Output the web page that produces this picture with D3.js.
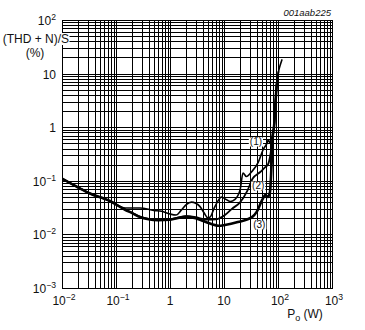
<!DOCTYPE html>
<html>
<head>
<meta charset="utf-8">
<script src="https://cdn.jsdelivr.net/npm/d3@7"></script>
<style>
  html, body { margin: 0; padding: 0; background: #fff; }
  svg { display: block; }
  text { font-family: "Liberation Sans", Arial, sans-serif; fill: #111; }
</style>
</head>
<body>
<svg id="chart" width="365" height="330"></svg>
<script>
// Output power (W) and (THD+N)/S (%) for the three measurement conditions
const power1 = [0.01, 0.02, 0.033, 0.077, 0.15, 0.28, 0.5, 0.7, 1.0, 1.3, 1.6, 2.0, 2.5, 3.0, 3.6, 4.3, 5.0, 5.5, 6.5, 7.5, 9, 10.5, 13, 16, 20, 22.5, 26, 33, 43, 53, 63, 66, 70, 75, 80, 85, 90, 95, 102, 110, 118];
const thd1   = [0.11, 0.075, 0.058, 0.042, 0.031, 0.031, 0.028, 0.027, 0.024, 0.023, 0.028, 0.036, 0.040, 0.038, 0.033, 0.025, 0.0205, 0.021, 0.030, 0.040, 0.050, 0.046, 0.041, 0.045, 0.070, 0.14, 0.12, 0.15, 0.22, 0.38, 0.51, 0.58, 0.52, 0.6, 0.75, 1.1, 3.0, 6.5, 10.8, 14.5, 18];

const power2 = [0.01, 0.02, 0.033, 0.077, 0.15, 0.2, 0.28, 0.4, 0.6, 1.0, 1.5, 2.0, 3.0, 4.0, 5.0, 7.0, 10.4, 14, 20, 27, 34, 47, 58, 65, 72, 78, 85, 90, 95, 102];
const thd2   = [0.11, 0.075, 0.058, 0.042, 0.029, 0.025, 0.0215, 0.0195, 0.0186, 0.019, 0.021, 0.022, 0.021, 0.0195, 0.0188, 0.019, 0.023, 0.030, 0.040, 0.065, 0.11, 0.146, 0.18, 0.2, 0.3, 0.55, 1.1, 3.0, 6.5, 10.8];

const power3 = [0.01, 0.02, 0.033, 0.077, 0.15, 0.2, 0.28, 0.4, 0.6, 1.0, 1.5, 2.0, 3.0, 4.0, 5.0, 8.0, 10.4, 18, 33, 40, 51, 58, 65, 71, 76, 80, 85, 90, 95];
const thd3   = [0.11, 0.075, 0.058, 0.042, 0.0285, 0.025, 0.021, 0.0192, 0.0185, 0.0188, 0.0205, 0.0215, 0.02, 0.018, 0.0165, 0.0145, 0.015, 0.017, 0.021, 0.026, 0.044, 0.054, 0.05, 0.062, 0.2, 0.7, 1.1, 3.0, 6.5];

// Tick labels: [mantissa text, exponent text]
const xTickValues = [0.01, 0.1, 1, 10, 100, 1000];
const xTickLabels = [["10", "\u22122"], ["10", "\u22121"], ["1", ""], ["10", ""], ["10", "2"], ["10", "3"]];
const yTickValues = [0.001, 0.01, 0.1, 1, 10, 100];
const yTickLabels = [["10", "\u22123"], ["10", "\u22122"], ["10", "\u22121"], ["1", ""], ["10", ""], ["10", "2"]];

// Curve identifiers and where they sit (W, %)
const curveNames = ["(1)", "(2)", "(3)"];
const labelAnchors = [[39, 0.53], [43, 0.08], [45, 0.015]];

const svg = d3.select("#chart");
const plotL = 62, plotR = 332, plotT = 20, plotB = 288;

const x = d3.scaleLog().domain([0.01, 1000]).range([plotL, plotR]);
const y = d3.scaleLog().domain([0.001, 100]).range([plotB, plotT]);

// Grid: decade lines and 2..9 minor lines, all solid black
const gridVals = (lo, hi) => {
  const out = [];
  for (let e = lo; e < hi; e++) for (let k = 1; k <= 9; k++) out.push(k * Math.pow(10, e));
  out.push(Math.pow(10, hi));
  return out;
};
const grid = svg.append("g").attr("shape-rendering", "crispEdges").attr("stroke", "#000").attr("stroke-width", 1);
grid.selectAll("line.v").data(gridVals(-2, 3)).join("line").attr("class", "v")
  .attr("x1", d => Math.round(x(d)) + 0.5).attr("x2", d => Math.round(x(d)) + 0.5)
  .attr("y1", plotT).attr("y2", plotB + 1);
grid.selectAll("line.h").data(gridVals(-3, 2)).join("line").attr("class", "h")
  .attr("y1", d => Math.round(y(d)) + 0.5).attr("y2", d => Math.round(y(d)) + 0.5)
  .attr("x1", plotL).attr("x2", plotR + 1);

// Curves
svg.append("clipPath").attr("id", "plot").append("rect")
  .attr("x", plotL).attr("y", plotT).attr("width", plotR - plotL).attr("height", plotB - plotT);
const line = d3.line().x(d => x(d[0])).y(d => y(d[1])).curve(d3.curveMonotoneX);
const series = [
  { p: power3, t: thd3, w: 2.6 },
  { p: power2, t: thd2, w: 1.8 },
  { p: power1, t: thd1, w: 1.6 }
];
const cg = svg.append("g").attr("clip-path", "url(#plot)");
series.forEach(s => {
  cg.append("path").datum(d3.zip(s.p, s.t)).attr("d", line)
    .attr("fill", "none").attr("stroke", "#000").attr("stroke-width", s.w)
    .attr("stroke-linejoin", "round").attr("stroke-linecap", "round");
});

// Tick label with optional superscript exponent
function powerText(g, tx, ty, anchor, parts, size) {
  const t = g.append("text").attr("x", tx).attr("y", ty).attr("text-anchor", anchor).attr("font-size", size);
  t.append("tspan").text(parts[0]);
  if (parts[1]) t.append("tspan").attr("font-size", size * 0.72).attr("dy", -size * 0.42).text(parts[1]);
  return t;
}
// White backing box behind a text element
function backWhite(t, pad) {
  const b = t.node().getBBox();
  d3.select(t.node().parentNode).insert("rect", () => t.node())
    .attr("x", b.x - pad).attr("y", b.y + 1).attr("width", b.width + 2 * pad).attr("height", b.height - 2)
    .attr("fill", "#fff");
}

// Curve labels
const lg = svg.append("g");
curveNames.forEach((n, i) => {
  const t = lg.append("text").attr("x", x(labelAnchors[i][0])).attr("y", y(labelAnchors[i][1]) + 3.5)
    .attr("text-anchor", "middle").attr("font-size", 10).text(n);
  backWhite(t, 1);
});

// Axis tick labels
const tg = svg.append("g");
xTickValues.forEach((v, i) => {
  powerText(tg, x(v) + (xTickLabels[i][1] ? 2 : 0), 305, "middle", xTickLabels[i], 12);
});
yTickValues.forEach((v, i) => {
  powerText(tg, 56, y(v) + 5, "end", yTickLabels[i], 12);
});

// Axis titles
const yt = svg.append("text").attr("x", 69).attr("y", 43).attr("text-anchor", "end").attr("font-size", 12)
  .text("(THD + N)/S");
backWhite(yt, 0.5);
svg.append("text").attr("x", 35).attr("y", 57).attr("text-anchor", "middle").attr("font-size", 12).text("(%)");

const xt = svg.append("text").attr("x", 305).attr("y", 318).attr("text-anchor", "middle").attr("font-size", 12);
xt.append("tspan").text("P");
xt.append("tspan").attr("font-size", 9).attr("dy", 3).text("o");
xt.append("tspan").attr("dy", -3).text(" (W)");

svg.append("text").attr("x", 331).attr("y", 16).attr("text-anchor", "end").attr("font-size", 9.5)
  .attr("font-style", "italic").text("001aab225");
</script>
</body>
</html>
